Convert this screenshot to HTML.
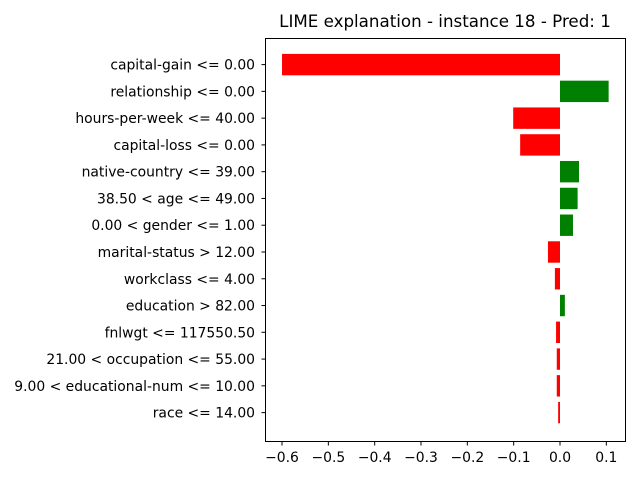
<!DOCTYPE html>
<html><head><meta charset="utf-8"><style>
body{margin:0;background:#fff;font-family:"Liberation Sans","DejaVu Sans",sans-serif;}
svg text{font-family:"DejaVu Sans","Liberation Sans",sans-serif;font-size:13.9px;fill:#000;}
</style></head><body>
<svg id="chart" width="640" height="480" xmlns="http://www.w3.org/2000/svg">
<rect width="640" height="480" fill="#fff"/>
<text x="445" y="27" text-anchor="middle" style="font-size:16.7px">LIME explanation - instance 18 - Pred: 1</text>
<g id="bars"></g><g id="yt"></g><g id="xt"></g>
<rect x="265.5" y="38.5" width="360" height="403" fill="none" stroke="#000" stroke-width="1"/>
</svg>
<script>
const features = ["capital-gain <= 0.00","relationship <= 0.00","hours-per-week <= 40.00","capital-loss <= 0.00","native-country <= 39.00","38.50 < age <= 49.00","0.00 < gender <= 1.00","marital-status > 12.00","workclass <= 4.00","education > 82.00","fnlwgt <= 117550.50","21.00 < occupation <= 55.00","9.00 < educational-num <= 10.00","race <= 14.00"];
const weights = [-0.600,0.105,-0.101,-0.086,0.041,0.038,0.028,-0.026,-0.011,0.0105,-0.0085,-0.007,-0.007,-0.004];
const xTicks = [-0.6,-0.5,-0.4,-0.3,-0.2,-0.1,0.0,0.1];
const xTickLabels = ["\u22120.6","\u22120.5","\u22120.4","\u22120.3","\u22120.2","\u22120.1","0.0","0.1"];
const NS="http://www.w3.org/2000/svg";
const x=v=>560+v*463.3;
const y=i=>64.6+i*26.77;
const bars=document.getElementById('bars'),yt=document.getElementById('yt'),xt=document.getElementById('xt');
function mk(tag,attrs){const e=document.createElementNS(NS,tag);for(const k in attrs)e.setAttribute(k,attrs[k]);return e;}
features.forEach((f,i)=>{
  const w=weights[i];
  const r=mk('rect',{x:Math.min(x(0),x(w)),y:y(i)-10.7,width:Math.abs(x(w)-x(0)),height:21.4,fill:w>0?'green':'red'});
  
  
  bars.appendChild(r);
  const t=mk('line',{x1:261.5,x2:265.5,y1:y(i),y2:y(i),stroke:'#000'});
  
  
  yt.appendChild(t);
  const l=mk('text',{x:255,y:y(i)+5,'text-anchor':'end'});
  l.textContent=f;
  
  
  yt.appendChild(l);
});
xTicks.forEach((v,i)=>{
  const t=mk('line',{x1:x(v),x2:x(v),y1:441.5,y2:445.5,stroke:'#000'});
  
  
  xt.appendChild(t);
  const l=mk('text',{x:x(v),y:462,'text-anchor':'middle'});
  l.textContent=xTickLabels[i];
  
  
  xt.appendChild(l);
});
</script>
</body></html>
